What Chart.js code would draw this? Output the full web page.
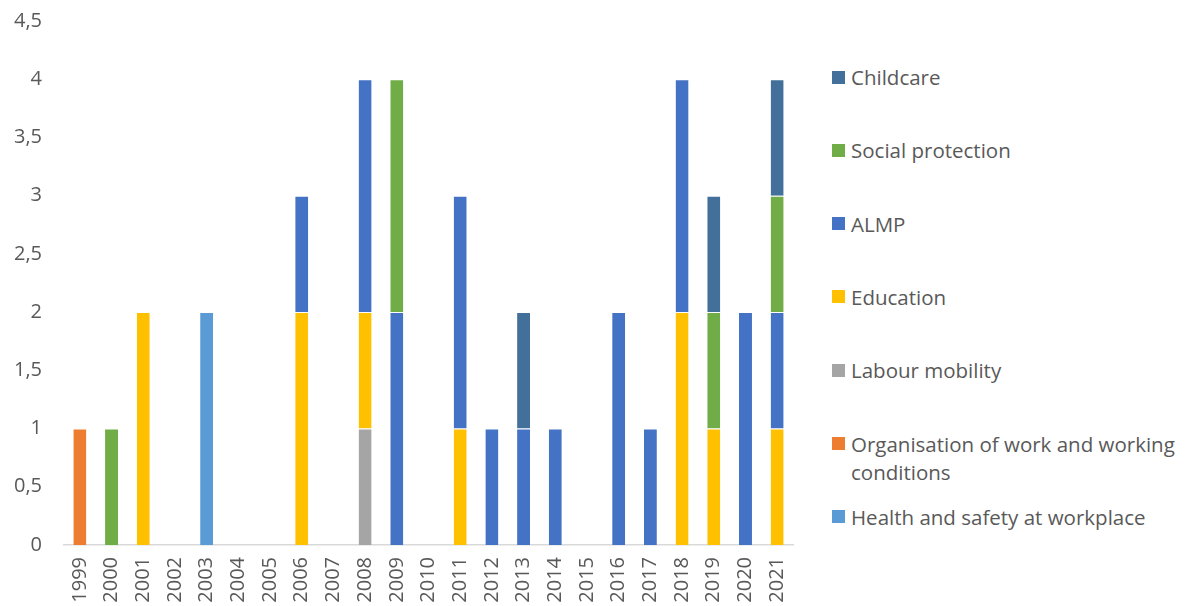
<!DOCTYPE html>
<html>
<head>
<meta charset="utf-8">
<script src="https://cdn.jsdelivr.net/npm/chart.js@4/dist/chart.umd.min.js"></script>
<style>
  html,body{margin:0;padding:0;background:#fff;}
  #wrap{position:relative;width:1190px;height:606px;overflow:hidden;font-family:"Open Sans",sans-serif;}
  #cwrap{position:absolute;left:0;top:0;width:810px;height:606px;}
  #legend{position:absolute;left:832px;top:0;width:360px;height:606px;}
  .item{position:absolute;left:0;display:flex;align-items:flex-start;color:#595959;font-size:20.5px;line-height:28px;}
  .sw{width:13px;height:13px;margin-top:7.5px;margin-right:6px;flex:0 0 13px;}
</style>
</head>
<body>
<div id="wrap">
  <div id="cwrap"><canvas id="c"></canvas></div>
  <div id="legend"></div>
</div>
<script>
const years = ["1999","2000","2001","2002","2003","2004","2005","2006","2007","2008","2009","2010","2011","2012","2013","2014","2015","2016","2017","2018","2019","2020","2021"];
//                     99   00   01   02   03   04   05   06   07   08   09   10   11   12   13   14   15   16   17   18   19   20   21
const healthSafety = [null,null,null,null,2,   null,null,null,null,null,null,null,null,null,null,null,null,null,null,null,null,null,null];
const organisation = [1,   null,null,null,null,null,null,null,null,null,null,null,null,null,null,null,null,null,null,null,null,null,null];
const labourMobility=[null,null,null,null,null,null,null,null,null,1,   null,null,null,null,null,null,null,null,null,null,null,null,null];
const education    = [null,null,2,   null,null,null,null,2,   null,1,   null,null,1,   null,null,null,null,null,null,2,   1,   null,1];
const almp         = [null,null,null,null,null,null,null,1,   null,2,   2,   null,2,   1,   1,   1,   null,2,   1,   2,   null,2,   1];
const socialProt   = [null,1,   null,null,null,null,null,null,null,null,2,   null,null,null,null,null,null,null,null,null,1,   null,1];
const childcare    = [null,null,null,null,null,null,null,null,null,null,null,null,null,null,1,   null,null,null,null,null,1,   null,1];
const yTicks = [0,0.5,1,1.5,2,2.5,3,3.5,4,4.5];

const series = [
  {label:"Health and safety at workplace", data:healthSafety, color:"#5B9BD5"},
  {label:"Organisation of work and working conditions", data:organisation, color:"#ED7D31"},
  {label:"Labour mobility", data:labourMobility, color:"#A5A5A5"},
  {label:"Education", data:education, color:"#FFC000"},
  {label:"ALMP", data:almp, color:"#4472C4"},
  {label:"Social protection", data:socialProt, color:"#70AD47"},
  {label:"Childcare", data:childcare, color:"#43709A"}
];

const datasets = series.map(s => ({
  label:s.label, data:s.data, backgroundColor:s.color,
  borderColor:"rgba(255,255,255,0.45)", borderWidth:{top:1,bottom:0,left:0,right:0}, borderSkipped:false,
  barPercentage:0.82, categoryPercentage:0.5
}));

const tickColor = "#595959";
const font = {family:"'Open Sans', sans-serif", size:20};

new Chart(document.getElementById("c"), {
  type:"bar",
  data:{labels:years, datasets},
  options:{
    responsive:true, maintainAspectRatio:false, animation:false,
    layout:{padding:{top:21,left:0,right:17,bottom:0}},
    plugins:{legend:{display:false}, tooltip:{enabled:false}},
    scales:{
      x:{
        stacked:true,
        grid:{display:false, drawTicks:false},
        border:{display:true, color:"#D9D9D9", width:1.5},
        ticks:{color:tickColor, font, minRotation:90, maxRotation:90, autoSkip:false, padding:12},
        afterFit:s=>{s.height=61; s.paddingLeft=0; s.paddingRight=0;}
      },
      y:{
        stacked:true, min:0, max:4.5,
        grid:{display:false, drawTicks:false},
        border:{display:false},
        afterBuildTicks:s=>{s.ticks=yTicks.map(v=>({value:v}));},
        ticks:{color:tickColor, font, padding:22,
          callback:v=>String(v).replace(".",",")},
        afterFit:s=>{s.width=64; s.paddingTop=0; s.paddingBottom=0;}
      }
    }
  }
});

// HTML legend (reverse of stacking order)
const legend = document.getElementById("legend");
const firstCenter = 77, pitch = 73.3;
series.slice().reverse().forEach((s,i)=>{
  const d = document.createElement("div");
  d.className="item";
  d.style.top = (firstCenter + i*pitch - 14) + "px";
  const sw = document.createElement("div");
  sw.className="sw"; sw.style.background=s.color;
  const t = document.createElement("div");
  t.textContent = s.label;
  t.style.width = "345px";
  d.appendChild(sw); d.appendChild(t);
  legend.appendChild(d);
});
</script>
</body>
</html>
